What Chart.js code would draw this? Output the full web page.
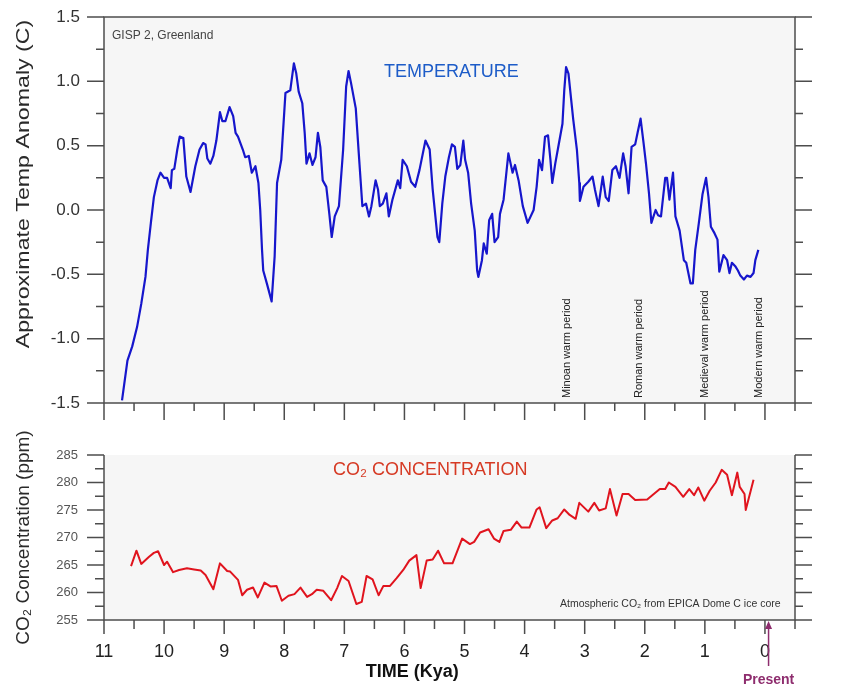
<!DOCTYPE html>
<html>
<head>
<meta charset="utf-8">
<script src="https://cdn.jsdelivr.net/npm/chart.js@4.4.0/dist/chart.umd.min.js"></script>
<style>
  body { margin: 0; background: #fff; }
  canvas { position: absolute; left: 0; }
</style>
</head>
<body>
<canvas id="tempChart" width="844" height="420" style="top:0"></canvas>
<canvas id="co2Chart" width="844" height="267" style="top:420px"></canvas>
<script>
// time axis (thousands of years ago), runs backwards to the present
const timeTicks = [11, 10, 9, 8, 7, 6, 5, 4, 3, 2, 1, 0];
const tempTicks = [-1.5, -1.0, -0.5, 0, 0.5, 1.0, 1.5];
const co2Ticks = [255, 260, 265, 270, 275, 280, 285];

// GISP 2 temperature anomaly (C)
const tempKya = [
  10.70, 10.61, 10.53, 10.45, 10.38, 10.31, 10.27, 10.22, 10.17, 10.11,
  10.06, 10.00, 9.95, 9.89, 9.87, 9.83, 9.78, 9.74, 9.68, 9.63,
  9.56, 9.48, 9.41, 9.35, 9.31, 9.28, 9.23, 9.18, 9.13, 9.07,
  9.03, 8.98, 8.91, 8.85, 8.81, 8.77, 8.69, 8.65, 8.59, 8.54,
  8.48, 8.43, 8.40, 8.37, 8.35, 8.29, 8.21, 8.16, 8.12, 8.05,
  7.98, 7.90, 7.84, 7.80, 7.76, 7.70, 7.66, 7.63, 7.58, 7.53,
  7.48, 7.44, 7.40, 7.36, 7.30, 7.25, 7.21, 7.16, 7.09, 7.02,
  6.97, 6.93, 6.89, 6.81, 6.76, 6.70, 6.64, 6.59, 6.55, 6.48,
  6.44, 6.41, 6.36, 6.30, 6.26, 6.20, 6.11, 6.07, 6.03, 5.96,
  5.89, 5.82, 5.75, 5.65, 5.58, 5.53, 5.45, 5.42, 5.37, 5.32,
  5.26, 5.21, 5.16, 5.12, 5.07, 5.02, 4.99, 4.94, 4.89, 4.83,
  4.79, 4.77, 4.71, 4.68, 4.63, 4.59, 4.54, 4.50, 4.44, 4.41,
  4.35, 4.27, 4.20, 4.16, 4.10, 4.03, 3.95, 3.85, 3.80, 3.76,
  3.71, 3.66, 3.61, 3.57, 3.54, 3.49, 3.44, 3.37, 3.34, 3.31,
  3.27, 3.23, 3.19, 3.13, 3.09, 3.08, 3.02, 2.94, 2.87, 2.83,
  2.77, 2.70, 2.65, 2.60, 2.54, 2.48, 2.42, 2.36, 2.32, 2.27,
  2.22, 2.16, 2.12, 2.07, 2.02, 1.98, 1.93, 1.89, 1.82, 1.78,
  1.73, 1.66, 1.63, 1.59, 1.53, 1.49, 1.42, 1.35, 1.31, 1.24,
  1.20, 1.16, 1.10, 1.04, 0.98, 0.94, 0.90, 0.84, 0.79, 0.76,
  0.69, 0.63, 0.59, 0.55, 0.49, 0.45, 0.41, 0.35, 0.30, 0.24,
  0.19, 0.16, 0.11
];
const tempAnomaly = [
  -1.48, -1.17, -1.06, -0.91, -0.73, -0.52, -0.31, -0.10, 0.10, 0.23,
  0.29, 0.25, 0.25, 0.17, 0.31, 0.32, 0.47, 0.57, 0.56, 0.26,
  0.14, 0.34, 0.47, 0.52, 0.51, 0.40, 0.36, 0.42, 0.54, 0.76,
  0.69, 0.69, 0.80, 0.73, 0.60, 0.57, 0.47, 0.41, 0.42, 0.29,
  0.34, 0.21, 0.00, -0.31, -0.47, -0.57, -0.71, -0.36, 0.21, 0.39,
  0.91, 0.93, 1.14, 1.06, 0.92, 0.83, 0.60, 0.36, 0.44, 0.35,
  0.41, 0.60, 0.49, 0.23, 0.18, -0.03, -0.21, -0.05, 0.03, 0.47,
  0.96, 1.08, 0.99, 0.79, 0.44, 0.03, 0.05, -0.05, 0.03, 0.23,
  0.16, 0.03, 0.05, 0.13, -0.05, 0.08, 0.23, 0.17, 0.39, 0.34,
  0.22, 0.18, 0.31, 0.54, 0.47, 0.16, -0.21, -0.25, 0.05, 0.26,
  0.41, 0.51, 0.49, 0.32, 0.35, 0.54, 0.39, 0.29, 0.05, -0.16,
  -0.47, -0.52, -0.39, -0.26, -0.34, -0.08, -0.03, -0.25, -0.21, -0.03,
  0.08, 0.44, 0.29, 0.35, 0.23, 0.03, -0.10, 0.00, 0.18, 0.39,
  0.31, 0.57, 0.58, 0.39, 0.21, 0.36, 0.49, 0.67, 0.93, 1.11,
  1.06, 0.88, 0.70, 0.47, 0.21, 0.07, 0.18, 0.22, 0.26, 0.16,
  0.03, 0.26, 0.10, 0.07, 0.31, 0.34, 0.25, 0.44, 0.34, 0.13,
  0.49, 0.51, 0.60, 0.71, 0.52, 0.36, 0.13, -0.10, 0.00, -0.04,
  -0.05, 0.25, 0.25, 0.08, 0.29, -0.05, -0.16, -0.39, -0.41, -0.57,
  -0.57, -0.31, -0.10, 0.12, 0.25, 0.10, -0.13, -0.18, -0.23, -0.48,
  -0.35, -0.39, -0.49, -0.41, -0.44, -0.47, -0.51, -0.54, -0.51, -0.52,
  -0.49, -0.39, -0.31
];

// EPICA Dome C atmospheric CO2 (ppm)
const co2Kya = [
  10.55, 10.46, 10.38, 10.25, 10.17, 10.10, 10.00, 9.95, 9.85, 9.75,
  9.62, 9.50, 9.39, 9.31, 9.18, 9.07, 8.95, 8.90, 8.77, 8.70,
  8.62, 8.52, 8.44, 8.33, 8.23, 8.13, 8.04, 7.93, 7.83, 7.73,
  7.62, 7.54, 7.46, 7.35, 7.22, 7.12, 7.04, 6.93, 6.80, 6.71,
  6.63, 6.53, 6.43, 6.35, 6.24, 6.13, 6.02, 5.92, 5.80, 5.73,
  5.63, 5.53, 5.44, 5.34, 5.20, 5.04, 4.91, 4.84, 4.74, 4.60,
  4.51, 4.42, 4.35, 4.23, 4.13, 4.05, 3.92, 3.80, 3.75, 3.64,
  3.54, 3.45, 3.34, 3.25, 3.15, 3.09, 2.94, 2.84, 2.76, 2.65,
  2.58, 2.47, 2.37, 2.27, 2.16, 1.96, 1.85, 1.75, 1.66, 1.60,
  1.49, 1.36, 1.26, 1.18, 1.11, 1.01, 0.92, 0.82, 0.72, 0.63,
  0.55, 0.46, 0.42, 0.34, 0.32, 0.19
];
const co2Ppm = [
  264.8, 267.6, 265.2, 266.5, 267.2, 267.5, 265.0, 265.6, 263.7, 264.1,
  264.4, 264.2, 264.0, 263.2, 260.6, 265.3, 263.9, 263.8, 262.3, 259.5,
  260.5, 260.9, 259.1, 261.8, 261.1, 261.2, 258.5, 259.4, 259.7, 260.9,
  259.2, 259.7, 260.5, 260.3, 258.6, 260.8, 263.0, 262.1, 257.9, 258.3,
  263.0, 262.4, 259.5, 261.2, 261.2, 262.6, 264.1, 265.8, 266.8, 260.8,
  265.8, 266.0, 267.6, 265.3, 265.3, 269.8, 268.8, 269.2, 270.9, 271.5,
  269.8, 269.2, 271.2, 271.4, 272.9, 271.8, 271.8, 275.1, 275.5, 271.7,
  273.1, 273.5, 275.1, 274.1, 273.4, 276.3, 274.7, 276.3, 274.9, 275.3,
  278.8, 274.0, 277.9, 277.9, 276.8, 276.9, 277.9, 278.8, 278.8, 280.0,
  279.2, 277.4, 278.8, 277.7, 279.1, 276.7, 278.5, 280.0, 282.3, 281.4,
  277.7, 281.8, 279.2, 277.9, 275.0, 280.5
];

const warmPeriods = ['Minoan warm period', 'Roman warm period', 'Medieval warm period', 'Modern warm period'];
const warmPeriodKya = [3.29, 2.10, 1.00, 0.10];

const FONT = "'Liberation Sans', Arial, sans-serif";
const AXIS = '#4d4d4d';
const PLOT_BG = '#f6f6f6';

// tick marks every `step`, longer ones on multiples of `major`
function tickMarks(ctx, scale, area, side, step, major, majorLen, minorLen) {
  const lo = Math.min(scale.min, scale.max);
  const hi = Math.max(scale.min, scale.max);
  ctx.beginPath();
  for (let i = Math.ceil(lo / step - 1e-6); i * step <= hi + 1e-6; i++) {
    const v = i * step;
    const r = v / major;
    const len = Math.abs(r - Math.round(r)) < 1e-6 ? majorLen : minorLen;
    const p = scale.getPixelForValue(v);
    if (side === 'left') { ctx.moveTo(area.left, p); ctx.lineTo(area.left - len, p); }
    if (side === 'right') { ctx.moveTo(area.right, p); ctx.lineTo(area.right + len, p); }
    if (side === 'bottom') { ctx.moveTo(p, area.bottom); ctx.lineTo(p, area.bottom + len); }
  }
  ctx.stroke();
}

const plotBackground = {
  id: 'plotBackground',
  beforeDatasetsDraw(chart) {
    const a = chart.chartArea;
    chart.ctx.save();
    chart.ctx.fillStyle = PLOT_BG;
    chart.ctx.fillRect(a.left, a.top, a.right - a.left, a.bottom - a.top);
    chart.ctx.restore();
  }
};

function yAxis(ticks, min, max, pad, fontSize, color, fmt, title) {
  return {
    min: min,
    max: max,
    afterFit(scale) {
      // fixed width, and keep the tick padding from pushing the plot down
      scale.width = 104;
      scale.paddingTop = 10;
      scale.paddingBottom = 10;
    },
    afterBuildTicks(scale) { scale.ticks = ticks.map(v => ({ value: v })); },
    ticks: { padding: pad, color: color, font: { family: FONT, size: fontSize }, callback: fmt },
    grid: { display: false, drawTicks: false },
    border: { display: false },
    title: title
      ? { display: true, text: title, color: '#2a2a2a', font: { family: FONT, size: 19 }, padding: { top: 12.6, bottom: 0 } }
      : { display: false }
  };
}

new Chart(document.getElementById('tempChart'), {
  type: 'line',
  data: {
    datasets: [{
      data: tempKya.map((k, i) => ({ x: k, y: tempAnomaly[i] })),
      borderColor: '#1616cc',
      borderWidth: 2.2,
      pointRadius: 0,
      borderJoinStyle: 'round'
    }]
  },
  options: {
    responsive: false,
    animation: false,
    layout: { padding: { top: 17, right: 49, bottom: 17, left: 0 } },
    plugins: { legend: { display: false }, tooltip: { enabled: false } },
    scales: {
      x: { type: 'linear', reverse: true, min: -0.5, max: 11, display: false },
      y: yAxis(tempTicks, -1.5, 1.5, 24, 17, '#333', v => v.toFixed(1), null)
    }
  },
  plugins: [plotBackground, {
    id: 'tempFrame',
    afterDraw(chart) {
      const { ctx, chartArea: a, scales: { x, y } } = chart;
      ctx.save();
      ctx.strokeStyle = AXIS;
      ctx.lineWidth = 1.5;
      ctx.strokeRect(a.left, a.top, a.right - a.left, a.bottom - a.top);
      tickMarks(ctx, y, a, 'left', 0.25, 0.5, 17, 8);
      tickMarks(ctx, y, a, 'right', 0.25, 0.5, 17, 8);
      tickMarks(ctx, x, a, 'bottom', 0.5, 1, 17, 8);

      // axis title, drawn a little stretched along its length
      ctx.save();
      ctx.translate(24, a.top + 167);
      ctx.rotate(-Math.PI / 2);
      ctx.scale(1.22, 1);
      ctx.textAlign = 'center';
      ctx.textBaseline = 'middle';
      ctx.fillStyle = '#2a2a2a';
      ctx.font = `19px ${FONT}`;
      ctx.fillText('Approximate Temp Anomaly (C)', 0, 0);
      ctx.restore();

      ctx.textBaseline = 'middle';
      ctx.textAlign = 'left';
      ctx.fillStyle = '#444';
      ctx.font = `12px ${FONT}`;
      ctx.fillText('GISP 2, Greenland', a.left + 8, a.top + 19);

      ctx.textAlign = 'center';
      ctx.fillStyle = '#1d5cc8';
      ctx.font = `18px ${FONT}`;
      ctx.fillText('TEMPERATURE', x.getPixelForValue(5.22), y.getPixelForValue(1.07));

      ctx.textAlign = 'left';
      ctx.fillStyle = '#222';
      ctx.font = `11px ${FONT}`;
      warmPeriods.forEach((label, i) => {
        ctx.save();
        ctx.translate(x.getPixelForValue(warmPeriodKya[i]), a.bottom - 5);
        ctx.rotate(-Math.PI / 2);
        ctx.fillText(label, 0, 0);
        ctx.restore();
      });
      ctx.restore();
    }
  }]
});

new Chart(document.getElementById('co2Chart'), {
  type: 'line',
  data: {
    datasets: [{
      data: co2Kya.map((k, i) => ({ x: k, y: co2Ppm[i] })),
      borderColor: '#e0141e',
      borderWidth: 2,
      pointRadius: 0,
      borderJoinStyle: 'round'
    }]
  },
  options: {
    responsive: false,
    animation: false,
    layout: { padding: { top: 35, right: 49, bottom: 0, left: 0 } },
    plugins: { legend: { display: false }, tooltip: { enabled: false } },
    scales: {
      x: {
        type: 'linear', reverse: true, min: -0.5, max: 11,
        afterFit(scale) { scale.height = 67; },
        afterBuildTicks(scale) { scale.ticks = timeTicks.map(v => ({ value: v })); },
        ticks: { padding: 21, color: '#222', autoSkip: false, maxRotation: 0, font: { family: FONT, size: 18 } },
        grid: { display: false, drawTicks: false },
        border: { display: false }
      },
      y: yAxis(co2Ticks, 255, 285, 26, 13, '#555', v => String(v), 'CO₂ Concentration (ppm)')
    }
  },
  plugins: [plotBackground, {
    id: 'co2Frame',
    afterDraw(chart) {
      const { ctx, chartArea: a, scales: { x, y } } = chart;
      ctx.save();
      ctx.strokeStyle = AXIS;
      ctx.lineWidth = 1.5;
      ctx.beginPath();
      ctx.moveTo(a.left, a.top);
      ctx.lineTo(a.left, a.bottom);
      ctx.lineTo(a.right, a.bottom);
      ctx.lineTo(a.right, a.top);
      ctx.stroke();
      tickMarks(ctx, y, a, 'left', 2.5, 5, 17, 9);
      tickMarks(ctx, y, a, 'right', 2.5, 5, 17, 8);
      tickMarks(ctx, x, a, 'bottom', 0.5, 1, 14, 9);

      ctx.textBaseline = 'middle';
      ctx.textAlign = 'center';
      ctx.fillStyle = '#d63a24';
      ctx.font = `18px ${FONT}`;
      ctx.fillText('CO₂ CONCENTRATION', x.getPixelForValue(5.57), y.getPixelForValue(282.3));

      ctx.textAlign = 'right';
      ctx.fillStyle = '#333';
      ctx.font = `10.5px ${FONT}`;
      ctx.fillText('Atmospheric CO₂ from EPICA Dome C ice core', x.getPixelForValue(-0.26), y.getPixelForValue(257.9));

      ctx.textAlign = 'center';
      ctx.fillStyle = '#111';
      ctx.font = `bold 18px ${FONT}`;
      ctx.fillText('TIME (Kya)', x.getPixelForValue(5.87), a.bottom + 52);

      // arrow marking the present day
      const px = x.getPixelForValue(-0.06);
      ctx.strokeStyle = '#8e2d6e';
      ctx.fillStyle = '#8e2d6e';
      ctx.lineWidth = 1.5;
      ctx.beginPath();
      ctx.moveTo(px, a.bottom + 46);
      ctx.lineTo(px, a.bottom + 4);
      ctx.stroke();
      ctx.beginPath();
      ctx.moveTo(px, a.bottom + 1);
      ctx.lineTo(px - 3.5, a.bottom + 9);
      ctx.lineTo(px + 3.5, a.bottom + 9);
      ctx.closePath();
      ctx.fill();
      ctx.font = `bold 14px ${FONT}`;
      ctx.fillText('Present', px, a.bottom + 60);
      ctx.restore();
    }
  }]
});
</script>
</body>
</html>
